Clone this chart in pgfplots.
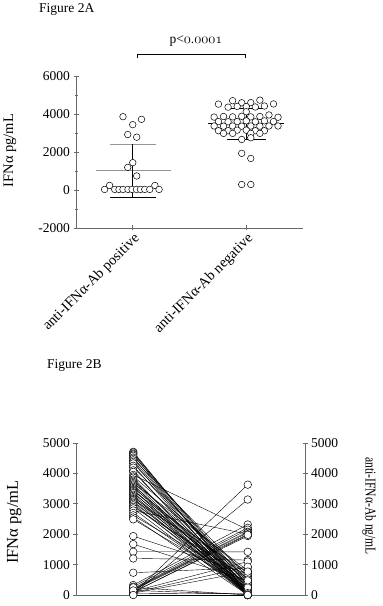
\documentclass[border=0pt]{standalone}
\usepackage{fontspec}
\setmainfont{Liberation Serif}
\usepackage{pgfplots}
\usepackage{pgfplotstable}
\pgfplotsset{compat=1.18}
\definecolor{axisgray}{RGB}{105,105,105}
\definecolor{meangray}{RGB}{150,150,150}
\newcommand{\osn}[1]{{\usefont{OML}{cmm}{m}{it}#1}}
\newcommand{\fs}{\fontsize{13.5}{16}\selectfont}

\pgfplotstableread{
x y
-0.086 3860
0.077 3720
0.000 3440
-0.044 2920
0.035 2780
0.000 1440
-0.044 1190
0.035 740
-0.248 30
-0.204 240
-0.159 30
-0.121 30
-0.086 30
-0.042 30
-0.006 30
0.033 30
0.068 30
0.106 30
0.150 30
0.195 240
0.232 30
}\posdata

\pgfplotstableread{
x y
0.755 4520
0.880 4700
0.960 4590
1.040 4600
1.120 4730
1.240 4530
0.840 4360
0.920 4400
1.000 4390
1.080 4370
1.160 4420
1.000 4120
0.717 3840
0.800 3870
0.880 3850
0.960 3880
1.040 3850
1.120 3870
1.200 3950
1.280 3830
0.755 3600
0.840 3590
0.920 3600
1.000 3640
1.080 3590
1.160 3640
1.240 3600
0.717 3370
0.800 3360
0.880 3370
0.960 3360
1.040 3370
1.120 3360
1.200 3370
1.280 3370
0.755 3120
0.840 3120
0.920 3150
1.000 3150
1.080 3120
1.160 3120
0.800 2980
0.880 2980
1.040 2980
1.120 2980
0.960 2660
1.040 2750
0.960 1930
1.040 1660
0.960 290
1.040 290
}\negdata

\pgfplotstableread{
ifn ab
4710 150
4690 50
4650 300
4620 0
4580 420
4520 100
4480 600
4430 200
4380 0
4330 350
4250 80
4190 500
4100 0
4050 250
3950 2150
3900 700
3860 0
3800 150
3760 400
3720 50
3680 800
3640 0
3600 300
3560 100
3520 550
3480 0
3450 200
3420 650
3380 30
3350 350
3300 100
3260 0
3220 480
3180 200
3150 0
3120 750
3080 100
3040 300
3000 0
2950 150
2900 550
2850 0
2780 2000
2700 100
2620 400
2550 0
2490 250
1937 700
1674 480
1423 1420
1203 1150
733 900
328 2320
273 2210
220 2150
200 2080
180 2050
164 2000
100 1940
90 1980
55 3630
30 3140
120 1100
80 930
60 770
250 0
40 60
150 20
0 0
}\pairs

\pgfplotsset{gp/.style={
  scale only axis, clip=false,
  tick style={axisgray, line width=0.8pt},
  tick align=outside,
  major tick length=5pt, minor tick length=3pt,
  tick label style={font=\fs},
  label style={font=\fs},
  /pgf/number format/assume math mode=true,
  /pgf/number format/1000 sep={},
  scaled y ticks=false,
},
noarr/.style={
  axis line style={draw=none},
}}
\tikzset{axl/.style={axisgray, line width=0.8pt}}

\begin{document}
\begin{tikzpicture}
\useasboundingbox (0pt,0pt) rectangle (383pt,606pt);

% ---------------- Figure 2A ----------------
\begin{axis}[gp,
  at={(76pt,378pt)}, anchor=south west,
  width=227pt, height=152pt,
  xmin=-0.5, xmax=1.5, ymin=-2000, ymax=6000,
  axis x line=bottom, axis y line=left,
  noarr,
  xtick={0,1},
  xticklabels={anti-IFNα-Ab positive, anti-IFNα-Ab negative},
  xticklabel style={rotate=45, anchor=north east, inner sep=1pt, font=\fontsize{14.5}{16}\selectfont},
  ytick={-2000,0,2000,4000,6000},
  minor y tick num=1,
  ylabel={IFNα pg/mL},
  ylabel style={at={(axis description cs:-0.291,0.51)}, anchor=center, font=\fontsize{14.5}{16}\selectfont},
]
\draw[axl] (rel axis cs:0,1) -- (rel axis cs:0,0) -- (rel axis cs:1,0);
\addplot[only marks, mark=*, mark size=3.3pt,
  mark options={fill=white, draw=black, line width=0.5pt}] table[x=x,y=y]{\posdata};
\addplot[only marks, mark=*, mark size=3.3pt,
  mark options={fill=white, draw=black, line width=0.5pt}] table[x=x,y=y]{\negdata};
% positive: mean and SD
\addplot[meangray, line width=1pt] coordinates {(-0.327,1010) (0.336,1010)};
\addplot[meangray, line width=1pt] coordinates {(-0.2,2410) (0.205,2410)};
\addplot[black, line width=0.8pt] coordinates {(-0.2,-370) (0.205,-370)};
\addplot[black, line width=0.8pt] coordinates {(0,-370) (0,2410)};
% negative: mean and SD
\addplot[black, line width=0.9pt] coordinates {(0.66,3490) (1.33,3490)};
\addplot[black, line width=0.8pt] coordinates {(0.83,4300) (1.17,4300)};
\addplot[black, line width=0.8pt] coordinates {(0.83,2650) (1.17,2650)};
\addplot[black, line width=0.8pt] coordinates {(1,2650) (1,4300)};
\end{axis}

\node[anchor=west, font=\fs, inner sep=0pt] at (39pt,597pt) {Figure 2A};
\node[font=\fs, inner sep=0pt] at (196pt,565pt) {p<\osn{0}.\osn{0001}};
\draw[black, line width=0.6pt] (137pt,548pt) -- (137pt,552pt) -- (245pt,552pt) -- (245pt,548pt);

% ---------------- Figure 2B ----------------
\node[anchor=west, font=\fs, inner sep=0pt] at (47pt,241pt) {Figure 2B};

\begin{axis}[gp,
  at={(76pt,11pt)}, anchor=south west,
  width=229pt, height=152pt,
  xmin=-0.5, xmax=1.5, ymin=0, ymax=5000,
  axis x line=bottom, axis y line=left,
  noarr,
  xtick=\empty,
  ytick={0,1000,2000,3000,4000,5000},
  ylabel={IFNα pg/mL},
  ylabel style={at={(axis description cs:-0.27,0.48)}, anchor=center, font=\fontsize{16.5}{18}\selectfont},
]
\draw[axl] (rel axis cs:0,1) -- (rel axis cs:0,0) -- (rel axis cs:1,0);
\addplot[no markers, black, line width=0.4pt, -,
  quiver={u=1, v=\thisrow{ab}-\thisrow{ifn}}] table[x expr=0, y=ifn]{\pairs};
\addplot[only marks, mark=*, mark size=3.8pt,
  mark options={fill=white, draw=black, line width=0.5pt}] table[x expr=0, y=ifn]{\pairs};
\addplot[only marks, mark=*, mark size=3.8pt,
  mark options={fill=white, draw=black, line width=0.5pt}] table[x expr=1, y=ab]{\pairs};
\end{axis}

\begin{axis}[gp,
  at={(76pt,11pt)}, anchor=south west,
  width=229pt, height=152pt,
  xmin=-0.5, xmax=1.5, ymin=0, ymax=5000,
  axis x line=none, axis y line=right,
  noarr,
  xtick=\empty,
  ytick={0,1000,2000,3000,4000,5000},
  ylabel={\scalebox{0.77}[1]{anti-IFNα-Ab ng/mL}},
  ylabel style={at={(axis description cs:1.28,0.585)}, anchor=center, rotate=180, font=\fontsize{15}{17}\selectfont},
]
\draw[axl] (rel axis cs:1,0) -- (rel axis cs:1,1);
\end{axis}
\end{tikzpicture}
\end{document}
